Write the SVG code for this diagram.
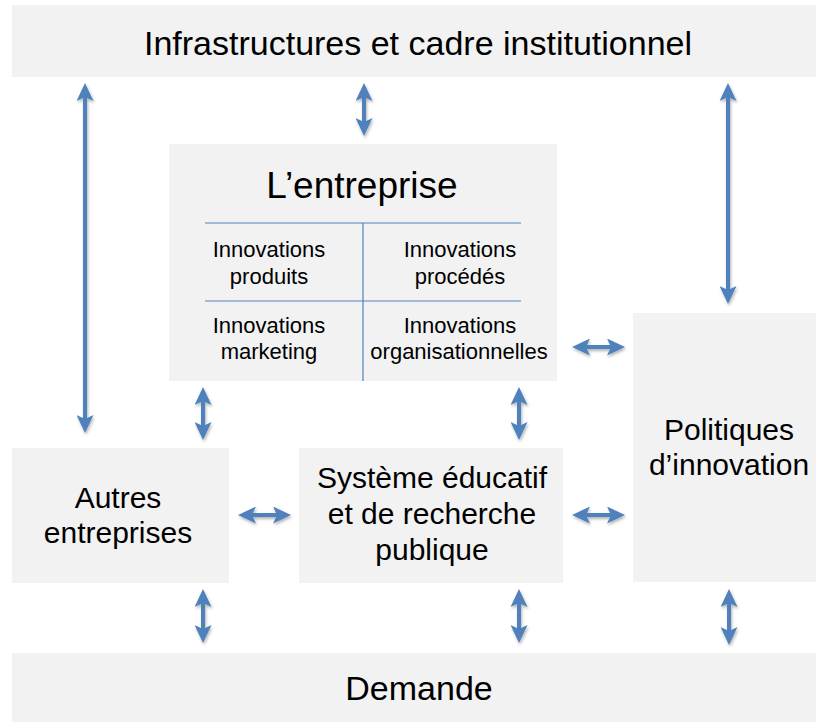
<svg xmlns="http://www.w3.org/2000/svg" width="816" height="722" viewBox="0 0 816 722">
<style>
.box{fill:#F2F2F2}
.t{font-family:"Liberation Sans",Arial,sans-serif;fill:#000;text-anchor:middle}
.big{font-size:34px}
.mid{font-size:30px}
.sm{font-size:22px}
.grid{stroke:#4F81BD;stroke-width:1.2;fill:none}
.arr{stroke:#4F81BD;stroke-width:4;fill:none;marker-start:url(#ah);marker-end:url(#ah)}
</style>
<defs>
<marker id="ah" viewBox="0 0 18 17" refX="8" refY="8.5" markerWidth="18" markerHeight="17" markerUnits="userSpaceOnUse" orient="auto-start-reverse">
<path d="M0,0 L18,8.5 L0,17 L4,8.5 Z" fill="#4F81BD"/>
</marker>
<filter id="sh" filterUnits="userSpaceOnUse" x="0" y="0" width="816" height="722">
<feDropShadow dx="1" dy="2" stdDeviation="1.5" flood-color="#000" flood-opacity="0.3"/>
</filter>
</defs>
<rect width="816" height="722" fill="#fff"/>
<g id="infrastructures">
<rect class="box" x="12" y="5" width="804" height="72"/>
<text class="t big" x="418" y="55">Infrastructures et cadre institutionnel</text>
</g>
<g id="entreprise">
<rect class="box" x="169" y="144" width="388" height="237"/>
<text class="t" style="font-size:37px" x="362" y="198">L’entreprise</text>
<line class="grid" x1="205" y1="223" x2="521" y2="223"/>
<line class="grid" x1="205" y1="301" x2="521" y2="301"/>
<line class="grid" x1="363" y1="223" x2="363" y2="381"/>
<text class="t sm" x="269" y="257">Innovations</text>
<text class="t sm" x="269" y="284">produits</text>
<text class="t sm" x="460" y="257">Innovations</text>
<text class="t sm" x="460" y="284">procédés</text>
<text class="t sm" x="269" y="333">Innovations</text>
<text class="t sm" x="269" y="359">marketing</text>
<text class="t sm" x="460" y="333">Innovations</text>
<text class="t sm" x="459" y="359">organisationnelles</text>
</g>
<g id="politiques">
<rect class="box" x="633" y="313" width="183" height="269"/>
<text class="t mid" x="729" y="440">Politiques</text>
<text class="t mid" x="729" y="475">d’innovation</text>
</g>
<g id="autres">
<rect class="box" x="12" y="448" width="217" height="135"/>
<text class="t mid" x="118" y="508">Autres</text>
<text class="t mid" x="118" y="543">entreprises</text>
</g>
<g id="systeme">
<rect class="box" x="299" y="448" width="264" height="135"/>
<text class="t mid" x="432" y="488">Système éducatif</text>
<text class="t mid" x="432" y="524">et de recherche</text>
<text class="t mid" x="432" y="560">publique</text>
</g>
<g id="demande">
<rect class="box" x="12" y="653" width="804" height="69"/>
<text class="t big" x="419" y="700">Demande</text>
</g>
<g id="connectors" filter="url(#sh)">
<line class="arr" x1="85" y1="93" x2="85" y2="423"/>
<line class="arr" x1="364" y1="93" x2="364" y2="126"/>
<line class="arr" x1="728" y1="93" x2="728" y2="294"/>
<line class="arr" x1="203" y1="397" x2="203" y2="430"/>
<line class="arr" x1="519" y1="397" x2="519" y2="430"/>
<line class="arr" x1="582" y1="347" x2="615" y2="347"/>
<line class="arr" x1="248" y1="515" x2="281" y2="515"/>
<line class="arr" x1="582" y1="515" x2="615" y2="515"/>
<line class="arr" x1="203" y1="599" x2="203" y2="633"/>
<line class="arr" x1="519" y1="599" x2="519" y2="633"/>
<line class="arr" x1="729" y1="599" x2="729" y2="635"/>
</g>
</svg>
